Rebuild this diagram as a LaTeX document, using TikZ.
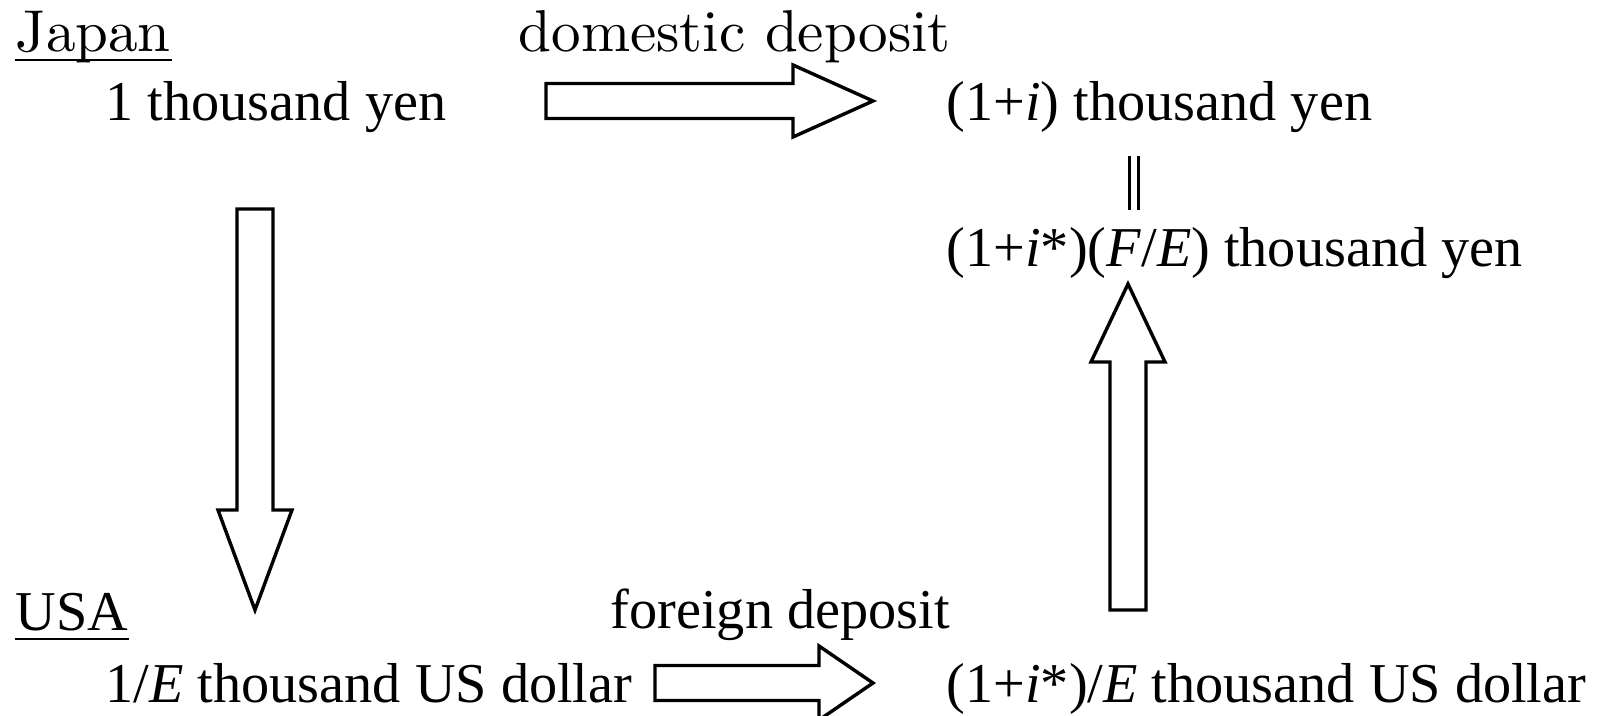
\documentclass[tikz,border=0pt]{standalone}
\usepackage{fontspec}
\newfontfamily\tnr{Liberation Serif}
\newfontfamily\lmten{lmroman10-regular.otf}
\usetikzlibrary{calc}

\tikzset{
    lbl/.style={anchor=base west, inner sep=0pt, font=\lmten\fontsize{16.8pt}{20pt}\selectfont},
    amount/.style={anchor=base west, inner sep=0pt, font=\tnr\fontsize{16pt}{19pt}\selectfont},
    blockarrow/.style={draw, line width=0.034cm, line join=miter, fill=white},
    uline/.style={line width=0.028cm}
}

\begin{document}
\begin{tikzpicture}[x=0.01cm, y=-0.01cm]
    \useasboundingbox (0,0) rectangle (1599,716);

    % Japan side
    \node[lbl] (japan) at (15,52) {Japan};
    \draw[uline] ($(japan.base west)+(0,8)$) -- ($(japan.base east)+(0,8)$);
    \node[amount] (jpy-now) at (105,121) {1 thousand yen};
    \node[lbl] (dom-label) at (518,52) {domestic deposit};
    \node[amount] (jpy-later) at (946,121) {(1+\textit{i}) thousand yen};
    \node[amount] (jpy-cover) at (946,267) {(1+\textit{i}*)(\textit{F}/\textit{E}) thousand yen};

    % USA side
    \node[amount] (usa) at (15,631) {USA};
    \draw[uline] ($(usa.base west)+(0,8)$) -- ($(usa.base east)+(0,8)$);
    \node[amount] (for-label) at (610,629) {foreign deposit};
    \node[amount] (usd-now) at (105,703) {1/\textit{E} thousand US dollar};
    \node[amount] (usd-later) at (946,703) {(1+\textit{i}*)/\textit{E} thousand US dollar};

    % domestic deposit arrow
    \coordinate (dom-tail) at (546,101);
    \coordinate (dom-tip) at (873,101);
    \draw[blockarrow] (dom-tail) ++(0,-17.5) -- ++(247,0) -- ++(0,-18.5) -- (dom-tip)
        -- ++(-80,36) -- ++(0,-18.5) -- ++(-247,0) -- cycle;

    % foreign deposit arrow
    \coordinate (for-tail) at (655,683);
    \coordinate (for-tip) at (873,683);
    \draw[blockarrow] (for-tail) ++(0,-17.5) -- ++(164,0) -- ++(0,-19.5) -- (for-tip)
        -- ++(-54,37) -- ++(0,-19.5) -- ++(-164,0) -- cycle;

    % exchange yen -> dollar
    \coordinate (ex-tail) at (255,209);
    \coordinate (ex-tip) at (255,610);
    \draw[blockarrow] (ex-tail) ++(-18,0) -- ++(0,301) -- ++(-19,0) -- (ex-tip)
        -- ++(37,-100) -- ++(-19,0) -- ++(0,-301) -- cycle;

    % exchange back dollar -> yen
    \coordinate (back-tail) at (1128,610);
    \coordinate (back-tip) at (1128,284);
    \draw[blockarrow] (back-tail) ++(-18,0) -- ++(0,-248) -- ++(-19,0) -- (back-tip)
        -- ++(37,78) -- ++(-19,0) -- ++(0,248) -- cycle;

    % equal returns
    \coordinate (eq-top) at (1134,156);
    \coordinate (eq-bot) at (1134,210);
    \draw[double, double distance=0.055cm, line width=0.034cm] (eq-top) -- (eq-bot);
\end{tikzpicture}
\end{document}
